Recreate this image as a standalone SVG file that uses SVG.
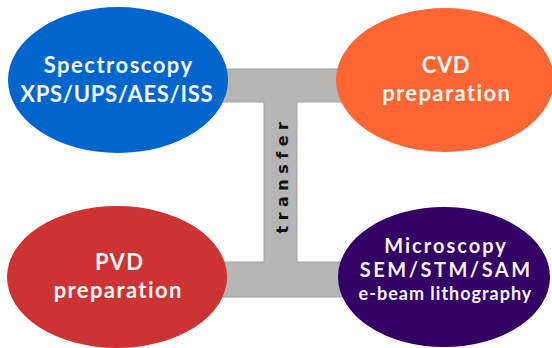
<svg xmlns="http://www.w3.org/2000/svg" width="552" height="348" viewBox="0 0 552 348">
<style>
.lbl{font-family:Lato,"Open Sans",sans-serif;font-weight:bold;fill:#f4f4f4;text-anchor:middle}
.bar{fill:#b5b5b5;stroke:#a0a0a0;stroke-width:1}
.tr{font-family:"DejaVu Sans","Noto Sans",sans-serif;font-weight:bold;font-size:16px;letter-spacing:5.5px;fill:#111;text-anchor:middle}
</style>
<rect width="552" height="348" fill="#fff"/>
<g id="connectors">
<path class="bar" d="M200,69 H360 V102 H297 V262 H360 V297 H200 V262 H264 V102 H200 Z"/>
<text class="tr" transform="translate(288,175) rotate(-90)">transfer</text>
</g>
<g id="spectroscopy">
<ellipse cx="118" cy="80" rx="110" ry="73" fill="#0066cc"/>
<text class="lbl" x="118.7" y="73" font-size="22" letter-spacing="1.5">Spectroscopy</text>
<text class="lbl" x="116.8" y="102" font-size="22" letter-spacing="0.7">XPS/UPS/AES/ISS</text>
</g>
<g id="cvd">
<ellipse cx="445" cy="80" rx="109" ry="72" fill="#ff6633"/>
<text class="lbl" x="446" y="73" font-size="22" letter-spacing="0.6">CVD</text>
<text class="lbl" x="446.7" y="101" font-size="22" letter-spacing="1.4">preparation</text>
</g>
<g id="pvd">
<ellipse cx="117" cy="277" rx="110" ry="71" fill="#cc3333"/>
<text class="lbl" x="119.6" y="270" font-size="22" letter-spacing="1.3">PVD</text>
<text class="lbl" x="118.2" y="298" font-size="22" letter-spacing="1.4">preparation</text>
</g>
<g id="microscopy">
<ellipse cx="444" cy="277" rx="106" ry="70" fill="#330066"/>
<text class="lbl" x="446" y="252.5" font-size="20" letter-spacing="2">Microscopy</text>
<text class="lbl" x="446.2" y="277" font-size="20" letter-spacing="2.5">SEM/STM/SAM</text>
<text class="lbl" x="445.5" y="300" font-size="18" letter-spacing="1">e-beam lithography</text>
</g>
</svg>
